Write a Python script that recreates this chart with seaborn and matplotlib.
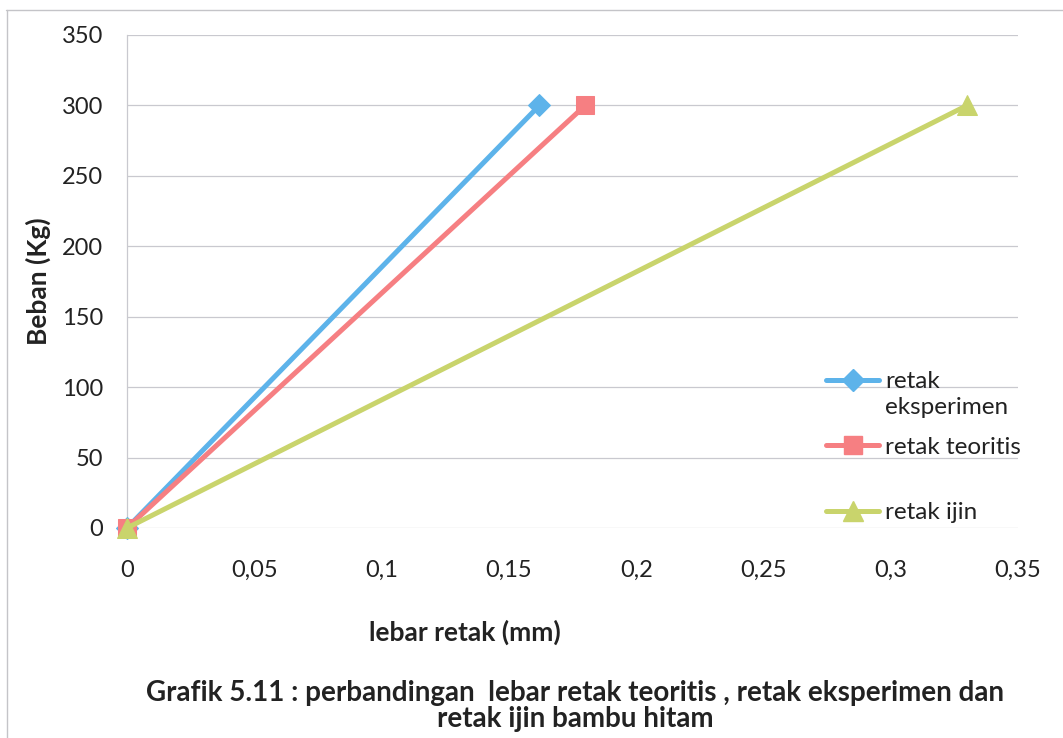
import matplotlib
matplotlib.use("Agg")
import matplotlib.pyplot as plt
from matplotlib.lines import Line2D
from matplotlib.ticker import FuncFormatter, MultipleLocator
from matplotlib.legend_handler import HandlerLine2D
from matplotlib.transforms import Affine2D
import numpy as np
import pandas as pd
import seaborn as sns

# Crack width (mm) against load (kg) for each series
lebar_eksperimen = [0.0, 0.162]
lebar_teoritis = [0.0, 0.18]
lebar_ijin = [0.0, 0.33]
beban = [0, 300]

series_names = ["retak\neksperimen", "retak teoritis", "retak ijin"]
series_colors = ["#5DB3EA", "#F67F82", "#C9D46C"]
series_markers = ["D", "s", "^"]
series_msize = [11, 13, 14]

LEG_FS = 17.5


class FirstLineHandler(HandlerLine2D):
    """Put the legend key level with the first line of a two-line label."""

    def __init__(self, dy, **kw):
        super().__init__(**kw)
        self.dy = dy

    def create_artists(self, legend, orig_handle, xdescent, ydescent, width,
                       height, fontsize, trans):
        trans = Affine2D().translate(0, self.dy) + trans
        return super().create_artists(legend, orig_handle, xdescent, ydescent,
                                      width, height, fontsize, trans)


sns.set_theme(style="white")
plt.rcParams["font.family"] = ["Lato", "DejaVu Sans"]

fig = plt.figure(figsize=(10.63, 7.38), dpi=100)
ax = fig.add_axes([0.1195, 0.2846, 0.8382, 0.668])

df = pd.DataFrame({
    "lebar": lebar_eksperimen + lebar_teoritis + lebar_ijin,
    "beban": beban * 3,
    "seri": [series_names[0]] * 2 + [series_names[1]] * 2 + [series_names[2]] * 2,
})

handles = []
for name, col, mk, ms in zip(series_names, series_colors, series_markers, series_msize):
    sub = df[df["seri"] == name]
    sns.lineplot(data=sub, x="lebar", y="beban", ax=ax, color=col, lw=3.6,
                 marker=mk, markersize=ms, markeredgecolor=col, legend=False,
                 sort=False, zorder=3, clip_on=False)
    handles.append(Line2D([], [], color=col, lw=3.6, marker=mk, markersize=ms,
                          markeredgecolor=col))

ax.set_xlim(0, 0.35)
ax.set_ylim(0, 350)
ax.xaxis.set_major_locator(MultipleLocator(0.05))
ax.yaxis.set_major_locator(MultipleLocator(50))
ax.xaxis.set_major_formatter(FuncFormatter(lambda v, p: ("%g" % round(v, 3)).replace(".", ",")))
ax.grid(axis="y", color="#C9C9CF", lw=0.9)
ax.grid(axis="x", visible=False)
for s in ["top", "right", "bottom"]:
    ax.spines[s].set_visible(False)
ax.spines["left"].set_color("#C9C9CF")
ax.spines["left"].set_linewidth(0.9)
ax.tick_params(axis="both", length=0, labelsize=17, colors="#222222")
ax.tick_params(axis="x", pad=23)
ax.tick_params(axis="y", pad=17)

ax.set_xlabel("")
ax.set_ylabel("Beban (Kg)", fontsize=19, fontweight="bold", color="#222222", labelpad=8)

# every label gets two lines so the entries are evenly spaced
leg_labels = [n if "\n" in n else n + "\n" for n in series_names]
dy = 0.6 * LEG_FS
leg = ax.legend(handles, leg_labels, loc="upper left", bbox_to_anchor=(0.7735, 0.338),
                frameon=False, fontsize=LEG_FS, handlelength=2.2, handletextpad=0.22,
                labelspacing=0.78, borderaxespad=0,
                handler_map={h: FirstLineHandler(dy) for h in handles})
for t in leg.get_texts():
    t.set_color("#222222")
    t.set_linespacing(1.27)

fig.text(0.437, 0.1436, "lebar retak (mm)", ha="center", va="center",
         fontsize=19, fontweight="bold", color="#222222")
fig.text(0.541, 0.043, "Grafik 5.11 : perbandingan  lebar retak teoritis , retak eksperimen dan\nretak ijin bambu hitam",
         ha="center", va="center", fontsize=20, fontweight="bold", color="#222222",
         linespacing=1.0)

# Chart frame (top and left edges)
fig.add_artist(Line2D([0.0056, 1.0], [0.9865, 0.9865], transform=fig.transFigure,
                      color="#C4C4C8", lw=1.0))
fig.add_artist(Line2D([0.0066, 0.0066], [0.0, 0.9865], transform=fig.transFigure,
                      color="#C4C4C8", lw=1.0))

fig.savefig("out.png", dpi=100)
